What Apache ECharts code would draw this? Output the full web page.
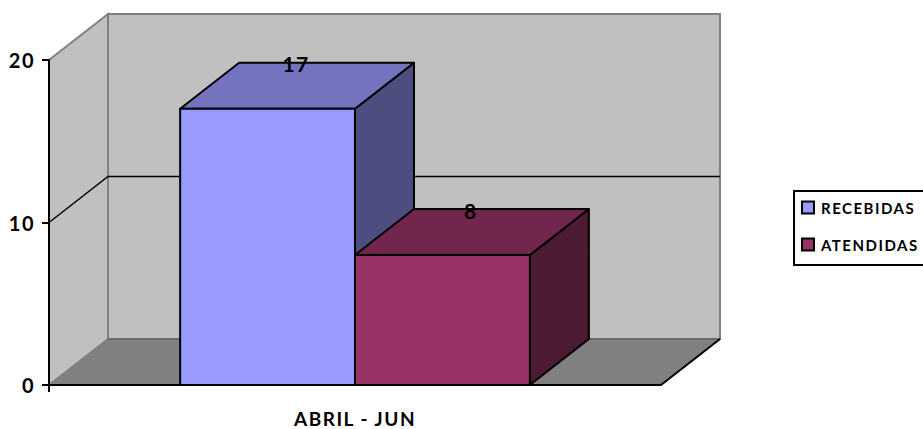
<!DOCTYPE html>
<html>
<head>
<meta charset="utf-8">
<title>Recebidas e atendidas</title>
<script src="https://cdn.jsdelivr.net/npm/echarts@6/dist/echarts.min.js"></script>
<style>
html, body { margin: 0; padding: 0; background: #fff; overflow: hidden; }
#main { width: 923px; height: 429px; }
/* the original text is spaced out */
#main text { letter-spacing: 1.5px; }
</style>
</head>
<body>
<div id="main"></div>
<script>
// data
var categories = ['ABRIL - JUN'];
var recebidas = [17];
var atendidas = [8];
var yTicks = [0, 10, 20];

var fontName = 'Lato, "Open Sans", sans-serif';
var depthX = 59;
var depthY = 46;

// walls + floor of the 3d box
function renderBox(params, api) {
    var cs = params.coordSys;
    var x0 = cs.x, x1 = cs.x + cs.width;
    var yBase = api.coord([0, yTicks[0]])[1];
    var yTop = api.coord([0, yTicks[yTicks.length - 1]])[1];
    var children = [
        { type: 'polygon', shape: { points: [[x0, yTop], [x0 + depthX, yTop - depthY], [x0 + depthX, yBase - depthY], [x0, yBase]] },
          style: { fill: '#C0C0C0', stroke: '#808080', lineWidth: 2 } },
        { type: 'polygon', shape: { points: [[x0 + depthX, yTop - depthY], [x1 + depthX, yTop - depthY], [x1 + depthX, yBase - depthY], [x0 + depthX, yBase - depthY]] },
          style: { fill: '#C0C0C0', stroke: '#808080', lineWidth: 2 } },
        { type: 'polygon', shape: { points: [[x0, yBase], [x0 + depthX, yBase - depthY], [x1 + depthX, yBase - depthY], [x1, yBase]] },
          style: { fill: '#808080', stroke: '#808080', lineWidth: 1 } },
        // floor edges
        { type: 'line', shape: { x1: x0 + depthX, y1: yBase - depthY, x2: x1 + depthX, y2: yBase - depthY }, style: { stroke: '#555', lineWidth: 1 } },
        { type: 'line', shape: { x1: x1, y1: yBase, x2: x1 + depthX, y2: yBase - depthY }, style: { stroke: '#000', lineWidth: 2 } },
        // little tick under the origin
        { type: 'line', shape: { x1: x0, y1: yBase, x2: x0, y2: yBase + 7 }, style: { stroke: '#000', lineWidth: 2 } }
    ];
    for (var i = 1; i < yTicks.length - 1; i++) {
        var y = api.coord([0, yTicks[i]])[1];
        children.push({ type: 'polyline', shape: { points: [[x0, y], [x0 + depthX, y - depthY], [x1 + depthX, y - depthY]] },
            style: { fill: 'none', stroke: '#000', lineWidth: 1.5 } });
    }
    return { type: 'group', children: children };
}

function barSeries(name, values, slot, colors) {
    return {
        name: name,
        type: 'custom',
        z: 2 + slot,
        clip: false,
        itemStyle: { color: colors[0], borderColor: '#000', borderWidth: 2 },
        encode: { x: 0, y: 1 },
        data: values.map(function (v, i) { return [categories[i], v]; }),
        renderItem: function (params, api) {
            var band = api.size([1, 0])[0];
            var w = band / 3.5; // 150% gap
            var top = api.coord([api.value(0), api.value(1)]);
            var base = api.coord([api.value(0), 0]);
            var l = top[0] - w + slot * w, r = l + w;
            var t = top[1], b = base[1];
            var line = { stroke: '#000', lineWidth: 2, lineJoin: 'round' };
            return { type: 'group', children: [
                { type: 'polygon', shape: { points: [[r, t], [r + depthX, t - depthY], [r + depthX, b - depthY], [r, b]] },
                  style: Object.assign({ fill: colors[2] }, line) },
                { type: 'polygon', shape: { points: [[l, t], [l + depthX, t - depthY], [r + depthX, t - depthY], [r, t]] },
                  style: Object.assign({ fill: colors[1] }, line) },
                { type: 'rect', shape: { x: l, y: t, width: w, height: b - t },
                  style: Object.assign({ fill: colors[0] }, line) },
                { type: 'text', x: (l + r + depthX) / 2 - 1, y: t - depthY + 1,
                  style: { text: String(api.value(1)), fill: '#000', font: 'bold 21px ' + fontName, textAlign: 'center', textVerticalAlign: 'middle' } }
            ] };
        }
    };
}

var chart = echarts.init(document.getElementById('main'), null, { renderer: 'svg' });
chart.setOption({
    animation: false,
    backgroundColor: '#fff',
    grid: { left: 49, top: 60, width: 612, height: 325, outerBoundsMode: 'none' },
    legend: {
        left: 794, top: 191, orient: 'vertical', icon: 'rect',
        data: ['RECEBIDAS', 'ATENDIDAS'],
        itemWidth: 12, itemHeight: 12, itemGap: 22,
        padding: [9, 60, 13, 7],
        borderColor: '#000', borderWidth: 2,
        textStyle: { fontFamily: fontName, fontWeight: 'bold', fontSize: 15, color: '#000', padding: [0, 0, 0, 2] }
    },
    xAxis: {
        type: 'category', data: categories, z: 6,
        axisLine: { lineStyle: { color: '#000', width: 2 } },
        axisTick: { show: false },
        axisLabel: { margin: 24, color: '#000', fontFamily: fontName, fontWeight: 'bold', fontSize: 19 },
        splitLine: { show: false }
    },
    yAxis: {
        type: 'value', min: 0, max: 20, interval: 10, z: 6,
        axisLine: { show: true, lineStyle: { color: '#000', width: 2 } },
        axisTick: { show: true, length: 7, lineStyle: { color: '#000', width: 2 } },
        axisLabel: { margin: 14, padding: [5, 0, 0, 0], color: '#000', fontFamily: fontName, fontWeight: 'bold', fontSize: 20 },
        splitLine: { show: false }
    },
    series: [
        { type: 'custom', z: 1, silent: true, clip: false, encode: { x: 0, y: 1 }, data: [[categories[0], 0]], renderItem: renderBox },
        barSeries('RECEBIDAS', recebidas, 0, ['#9999FF', '#7373BF', '#4D4D80']),
        barSeries('ATENDIDAS', atendidas, 1, ['#993366', '#73264D', '#4D1A33'])
    ]
});
</script>
</body>
</html>
